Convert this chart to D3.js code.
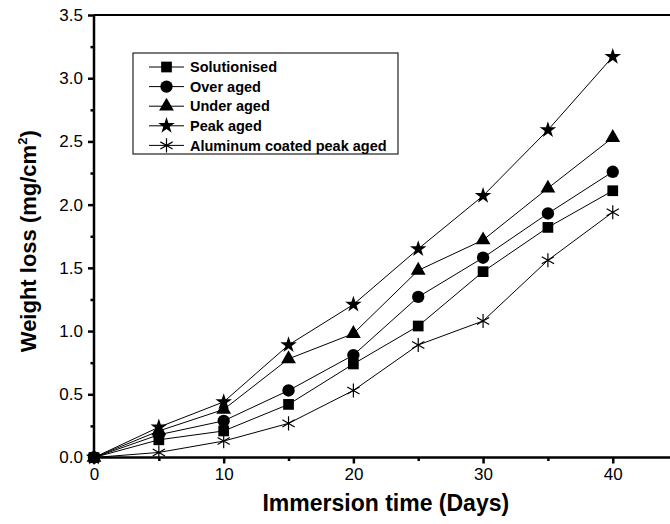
<!DOCTYPE html>
<html>
<head>
<meta charset="utf-8">
<script src="https://cdn.jsdelivr.net/npm/d3@7/dist/d3.min.js"></script>
<style>
  body { margin: 0; background: #fff; }
  svg { display: block; font-family: Arial, "Liberation Sans", sans-serif; }
</style>
</head>
<body>
<div id="chart"></div>
<script>
/* global d3 */
const width = 670
const height = 524

// immersion time in days
const days = [0, 5, 10, 15, 20, 25, 30, 35, 40]

// weight loss, mg/cm2
const solutionised = [0, 0.14, 0.21, 0.42, 0.74, 1.04, 1.47, 1.82, 2.11]
const overAged = [0, 0.18, 0.29, 0.53, 0.81, 1.27, 1.58, 1.93, 2.26]
const underAged = [0, 0.21, 0.38, 0.78, 0.98, 1.48, 1.72, 2.13, 2.53]
const peakAged = [0, 0.24, 0.44, 0.89, 1.21, 1.65, 2.07, 2.59, 3.17]
const coatedPeakAged = [0, 0.04, 0.13, 0.27, 0.53, 0.89, 1.08, 1.56, 1.94]

const seriesNames = ['Solutionised', 'Over aged', 'Under aged', 'Peak aged', 'Aluminum coated peak aged']
const seriesValues = [solutionised, overAged, underAged, peakAged, coatedPeakAged]

const xTicks = [0, 10, 20, 30, 40]
const xMinorTicks = [5, 15, 25, 35]
const yTicks = [0, 0.5, 1.0, 1.5, 2.0, 2.5, 3.0, 3.5]
const yMinorTicks = [0.25, 0.75, 1.25, 1.75, 2.25, 2.75, 3.25]

const plotLeft = 94
const plotTop = 15
const plotBottom = 457.5

const x = d3.scaleLinear().domain([0, 45]).range([plotLeft, plotLeft + 583.6])
const y = d3.scaleLinear().domain([0, 3.5]).range([plotBottom, plotTop])

// asterisk: vertical bar plus two diagonals
const asterisk = {
  draw (ctx, size) {
    const r = Math.sqrt(size) / 2
    for (let i = 0; i < 3; i++) {
      const a = Math.PI / 2 + i * Math.PI / 3
      ctx.moveTo(r * Math.cos(a), r * Math.sin(a))
      ctx.lineTo(-r * Math.cos(a), -r * Math.sin(a))
    }
  }
}

const symbols = [
  { type: d3.symbolSquare, size: 115, fill: true },
  { type: d3.symbolCircle, size: 120, fill: true },
  { type: d3.symbolTriangle, size: 95, fill: true },
  { type: d3.symbolStar, size: 85, fill: true },
  { type: asterisk, size: 200, fill: false }
]

const svg = d3.select('#chart')
  .append('svg')
  .attr('width', width)
  .attr('height', height)

const data = seriesNames.map((name, i) => ({
  name,
  points: days.map((d, j) => ({ day: d, value: seriesValues[i][j] })),
  symbol: symbols[i]
}))

// top frame line (right edge falls outside the picture)
svg.append('line')
  .attr('x1', plotLeft).attr('x2', x(45))
  .attr('y1', plotTop).attr('y2', plotTop)
  .attr('stroke', '#000').attr('stroke-width', 2)

// axes
const xAxis = svg.append('g')
  .attr('transform', `translate(0,${plotBottom})`)
  .call(d3.axisBottom(x).tickValues(xTicks).tickSize(6).tickPadding(4).tickFormat(d3.format('d')))
svg.append('g')
  .attr('transform', `translate(0,${plotBottom})`)
  .call(d3.axisBottom(x).tickValues(xMinorTicks).tickSize(3.5).tickFormat(''))
  .call(g => g.select('.domain').remove())

const yAxis = svg.append('g')
  .attr('transform', `translate(${plotLeft},0)`)
  .call(d3.axisLeft(y).tickValues(yTicks).tickSize(6).tickPadding(5).tickFormat(d3.format('.1f')))
svg.append('g')
  .attr('transform', `translate(${plotLeft},0)`)
  .call(d3.axisLeft(y).tickValues(yMinorTicks).tickSize(3.5).tickFormat(''))
  .call(g => g.select('.domain').remove())

svg.selectAll('.domain').attr('stroke-width', 2.5)
svg.selectAll('.tick line').attr('stroke-width', 2.5)
svg.selectAll('.tick text').attr('font-size', 17).attr('fill', '#000')
  .attr('font-family', 'Arial, "Liberation Sans", sans-serif')
xAxis.selectAll('.domain').attr('d', `M${plotLeft},0H${x(45)}`)
yAxis.selectAll('.domain').attr('d', `M0,${plotBottom}V${plotTop}`)

// axis titles
svg.append('text')
  .attr('x', x(22.5))
  .attr('y', 511)
  .attr('text-anchor', 'middle')
  .attr('font-size', 23)
  .attr('font-weight', 'bold')
  .text('Immersion time (Days)')

const yTitle = svg.append('text')
  .attr('transform', `translate(36,${(plotTop + plotBottom) / 2 + 5}) rotate(-90)`)
  .attr('text-anchor', 'middle')
  .attr('font-size', 22)
  .attr('font-weight', 'bold')
yTitle.append('tspan').text('Weight loss (mg/cm')
yTitle.append('tspan').attr('font-size', 13).attr('dy', -9).text('2')
yTitle.append('tspan').attr('dy', 9).text(')')

// series lines and markers
const line = d3.line()
  .x(d => x(d.day))
  .y(d => y(d.value))

const series = svg.selectAll('g.series')
  .data(data)
  .enter()
  .append('g')
  .attr('class', 'series')

series.append('path')
  .attr('d', d => line(d.points))
  .attr('fill', 'none')
  .attr('stroke', '#000')
  .attr('stroke-width', 1)

series.each(function (s) {
  const sym = d3.symbol().type(s.symbol.type).size(s.symbol.size)
  d3.select(this).selectAll('path.marker')
    .data(s.points)
    .enter()
    .append('path')
    .attr('class', 'marker')
    .attr('transform', d => `translate(${x(d.day)},${y(d.value)})`)
    .attr('d', sym)
    .attr('fill', s.symbol.fill ? '#000' : 'none')
    .attr('stroke', '#000')
    .attr('stroke-width', s.symbol.fill ? 0 : 1.2)
})

// legend
const legend = svg.append('g')
svg.insert('rect', 'g.series')
  .attr('x', 133).attr('y', 53)
  .attr('width', 265).attr('height', 101)
  .attr('fill', '#fff')
  .attr('stroke', '#222')
  .attr('stroke-width', 1.2)

const legendItem = legend.selectAll('g')
  .data(data)
  .enter()
  .append('g')
  .attr('transform', (d, i) => `translate(149,${67 + i * 19.6})`)

legendItem.append('line')
  .attr('x1', 0).attr('x2', 35)
  .attr('stroke', '#000')
  .attr('stroke-width', 1)

legendItem.append('path')
  .attr('transform', 'translate(17.5,0)')
  .attr('d', d => d3.symbol().type(d.symbol.type).size(d.symbol.size)())
  .attr('fill', d => d.symbol.fill ? '#000' : 'none')
  .attr('stroke', '#000')
  .attr('stroke-width', d => d.symbol.fill ? 0 : 1.2)

legendItem.append('text')
  .attr('x', 41)
  .attr('dy', '0.36em')
  .attr('font-size', 14.5)
  .attr('font-weight', 'bold')
  .text(d => d.name)
</script>
</body>
</html>
